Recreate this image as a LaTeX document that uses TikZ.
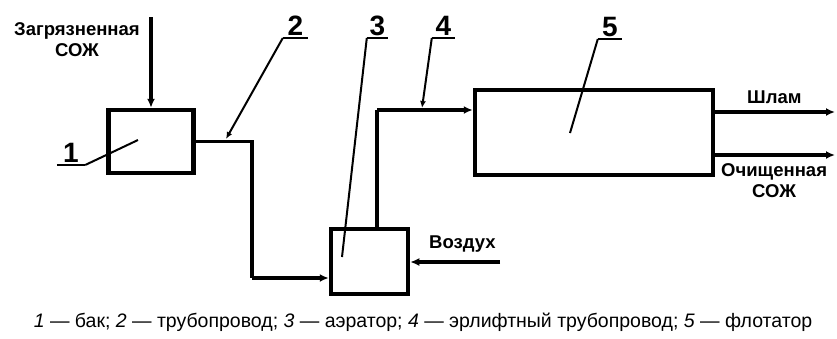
\documentclass[tikz,border=0pt]{standalone}
\usepackage{fontspec}
\setmainfont{Liberation Sans}
\usetikzlibrary{arrows.meta,calc}

\tikzstyle{unit} = [rectangle, draw=black, line width=4.5pt, inner sep=0pt]
\tikzstyle{pipe} = [line width=3.5pt]
\tikzstyle{arrow} = [line width=3.5pt,-{Latex[length=9pt,width=8pt]}]
\tikzstyle{leader} = [line width=2pt]
\tikzstyle{leaderarrow} = [line width=2pt,-{Latex[length=7pt,width=6pt]}]
\tikzstyle{num} = [inner sep=0pt, font=\fontsize{28}{28}\selectfont\bfseries]
\tikzstyle{flow} = [inner sep=0pt, align=center, font=\fontsize{18.5}{21}\selectfont\bfseries]

\begin{document}
\begin{tikzpicture}[x=1pt,y=-1pt]
    \useasboundingbox (0,0) rectangle (837,338);

    \node (bak) [unit, minimum width=85pt, minimum height=63pt] at (151,141.5) {};
    \node (aerator) [unit, minimum width=77pt, minimum height=65pt] at (369.5,261.5) {};
    \node (flotator) [unit, minimum width=238pt, minimum height=85pt] at (594,132.5) {};

    \node (dirty) [flow] at (77,40) {Загрязненная\\СОЖ};
    \node (air) [flow, anchor=south west] at (429,253) {Воздух};
    \node (slime) [flow, anchor=south west] at (747,104) {Шлам};
    \node (clean) [flow, anchor=north west] at (721,163) {Очищенная\\СОЖ};

    \coordinate (inlet) at (151,17);
    \coordinate (bend2) at (252,278);
    \coordinate (airin) at (500,262);
    \coordinate (rise4) at (377,110);
    \coordinate (out1) at (835,112);
    \coordinate (out2) at (835,155);

    \draw [arrow] (inlet) -- (bak.north);
    \draw [pipe] (bak.east) -| (bend2);
    \draw [arrow] (bend2) -- (bend2 -| aerator.west);
    \draw [arrow] (airin) -- (airin -| aerator.east);
    \draw [pipe] (rise4 |- aerator.north) -- (rise4);
    \draw [arrow] (rise4) -- (rise4 -| flotator.west);
    \draw [arrow] (out1 -| flotator.east) -- (out1);
    \draw [arrow] (out2 -| flotator.east) -- (out2);

    % position numbers
    \node (n1) [num, minimum width=28pt, anchor=south] at (71,163) {1};
    \node (n2) [num, minimum width=25pt, anchor=south] at (295.5,36) {2};
    \node (n3) [num, minimum width=21pt, anchor=south] at (377.5,36) {3};
    \node (n4) [num, minimum width=23pt, anchor=south] at (443.5,36) {4};
    \node (n5) [num, minimum width=24pt, anchor=south] at (610,37) {5};

    \coordinate (p1) at (138,140);
    \coordinate (p2) at (226,139);
    \coordinate (p3) at (342,257);
    \coordinate (p4) at (422,108);
    \coordinate (p5) at (570,133);

    \foreach \n in {n1,n2,n3,n4,n5}
        \draw [leader] ($(\n.south west)+(0,2)$) -- ($(\n.south east)+(0,2)$);
    \draw [leader] ($(n1.south east)+(0,2)$) -- (p1);
    \draw [leaderarrow] ($(n2.south west)+(0,2)$) -- (p2);
    \draw [leader] ($(n3.south west)+(0,2)$) -- (p3);
    \draw [leaderarrow] ($(n4.south west)+(0,2)$) -- (p4);
    \draw [leader] ($(n5.south west)+(0,2)$) -- (p5);

    \node (caption) [inner sep=0pt, font=\fontsize{19.5}{22}\selectfont] at (423,322)
        {\textit{1} — бак; \textit{2} — трубопровод; \textit{3} — аэратор; \textit{4} — эрлифтный трубопровод; \textit{5} — флотатор};

\end{tikzpicture}
\end{document}
